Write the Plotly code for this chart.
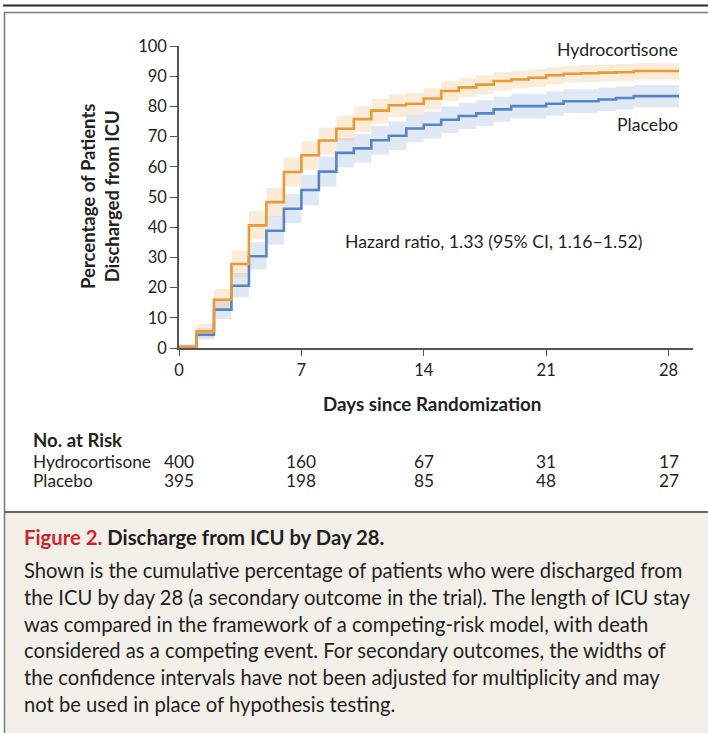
import plotly.graph_objects as go

# ---------------- data ----------------
days = list(range(0, 29)) + [28.6]

hydro = [0.3, 5.5, 16.0, 27.8, 40.6, 48.3, 58.3, 63.8, 68.7, 72.6, 75.8, 78.6, 80.4, 80.9,
         82.6, 85.1, 86.3, 87.2, 88.4, 88.9, 89.5, 90.3, 90.8, 91.0, 91.2, 91.3, 91.7, 91.7, 91.7]
hydro_lo = [0.0, 3.5, 12.5, 23.5, 36.0, 43.5, 53.5, 59.0, 64.0, 68.5, 71.5, 74.5, 76.5, 77.3,
            79.0, 81.7, 83.0, 84.0, 85.3, 85.9, 86.5, 87.3, 87.9, 88.1, 88.3, 88.4, 88.9, 88.9, 88.9]
hydro_hi = [1.2, 8.0, 19.6, 32.3, 45.4, 53.0, 63.0, 68.5, 73.0, 77.0, 80.0, 82.5, 84.0, 84.5,
            86.0, 88.3, 89.5, 90.3, 91.3, 91.8, 92.3, 93.0, 93.5, 93.7, 93.9, 94.0, 94.3, 94.3, 94.3]

placebo = [0.3, 4.4, 12.7, 20.6, 30.4, 38.8, 46.1, 52.3, 58.4, 64.6, 66.1, 68.8, 70.3, 72.7,
           73.9, 75.6, 76.8, 77.7, 79.0, 80.1, 80.1, 80.9, 81.7, 81.7, 82.3, 82.8, 83.4, 83.4, 83.4]
placebo_lo = [0.0, 2.8, 9.6, 16.7, 26.0, 34.2, 41.3, 47.3, 53.4, 59.8, 61.3, 64.0, 65.6, 68.1,
              69.4, 71.2, 72.5, 73.5, 74.9, 76.0, 76.0, 76.9, 77.8, 77.8, 78.5, 79.0, 79.7, 79.7, 79.7]
placebo_hi = [1.2, 6.5, 16.0, 24.8, 35.0, 43.6, 51.0, 57.3, 63.4, 69.5, 70.9, 73.5, 75.0, 77.3,
              78.3, 80.0, 81.1, 82.0, 83.2, 84.2, 84.2, 85.0, 85.7, 85.7, 86.2, 86.6, 87.1, 87.1, 87.1]

x_ticks = [0, 7, 14, 21, 28]
y_ticks = [0, 10, 20, 30, 40, 50, 60, 70, 80, 90, 100]
risk_hydro = ["400", "160", "67", "31", "17"]
risk_placebo = ["395", "198", "85", "48", "27"]

caption_title_red = "Figure 2."
caption_title = "Discharge from ICU by Day 28."
caption_lines = [
    "Shown is the cumulative percentage of patients who were discharged from",
    "the ICU by day 28 (a secondary outcome in the trial). The length of ICU stay",
    "was compared in the framework of a competing-risk model, with death",
    "considered as a competing event. For secondary outcomes, the widths of",
    "the confidence intervals have not been adjusted for multiplicity and may",
    "not be used in place of hypothesis testing.",
]

# ---------------- style ----------------
W, H = 708, 733
ML, MR, MT, MB = 179, 15, 46, 385
PW, PH = W - ML - MR, H - MT - MB
FONT = "Lato"
TXT = "#231f20"
ORANGE = "#e89a35"
BLUE = "#5585c5"
ORANGE_BAND = "rgba(243,190,130,0.30)"
BLUE_BAND = "rgba(160,185,225,0.33)"


def ext(v):
    return list(v) + [v[-1]]


def px(xp):
    return (xp - ML) / PW


def py(yp):
    return (H - MB - yp) / PH


fig = go.Figure()

for lo, hi, band in [(placebo_lo, placebo_hi, BLUE_BAND), (hydro_lo, hydro_hi, ORANGE_BAND)]:
    fig.add_trace(go.Scatter(x=days, y=ext(lo), mode="lines", line=dict(width=0, shape="hv"),
                             hoverinfo="skip", showlegend=False))
    fig.add_trace(go.Scatter(x=days, y=ext(hi), mode="lines", line=dict(width=0, shape="hv"),
                             fill="tonexty", fillcolor=band, hoverinfo="skip", showlegend=False))

fig.add_trace(go.Scatter(x=days, y=ext(placebo), mode="lines", name="Placebo",
                         line=dict(color=BLUE, width=2.6, shape="hv"), showlegend=False))
fig.add_trace(go.Scatter(x=days, y=ext(hydro), mode="lines", name="Hydrocortisone",
                         line=dict(color=ORANGE, width=2.6, shape="hv"), showlegend=False))

annotations = []


def txt(x, y, s, size=15, bold=False, xanchor="left", yanchor="middle", color=TXT,
        xref="paper", yref="paper"):
    if bold:
        s = "<b>" + s + "</b>"
    annotations.append(dict(x=x, y=y, xref=xref, yref=yref, text=s, showarrow=False,
                            xanchor=xanchor, yanchor=yanchor,
                            font=dict(family=FONT, size=size, color=color)))


txt(px(680), py(50), "Hydrocortisone", size=17.7, xanchor="right")
txt(px(680), py(124), "Placebo", size=17.7, xanchor="right")
txt(px(343), py(241), "Hazard ratio, 1.33 (95% CI, 1.16\u20131.52)", size=17.7)

# y axis title
annotations.append(dict(x=px(100), y=py(197), xref="paper", yref="paper",
                        text="<b>Percentage of Patients<br>Discharged from ICU</b>",
                        showarrow=False, textangle=-90, xanchor="center", yanchor="middle",
                        font=dict(family=FONT, size=18.5, color=TXT)))
txt(px(432), py(403), "Days since Randomization", size=18.8, bold=True, xanchor="center")

txt(px(31), py(440), "No. at Risk", bold=True, size=18.6)
txt(px(31), py(461), "Hydrocortisone", size=17.3)
txt(px(31), py(480), "Placebo", size=17.3)
for d, a, b in zip(x_ticks, risk_hydro, risk_placebo):
    txt(d, py(461), a, size=17.3, xanchor="center", xref="x")
    txt(d, py(480), b, size=17.3, xanchor="center", xref="x")

txt(px(22), py(537), "<span style='color:#d2232a'>" + caption_title_red + "</span> " + caption_title,
    size=20.3, bold=True)
for i, line in enumerate(caption_lines):
    txt(px(22), py(570 + i * 26.8), line, size=20.2)

shapes = [
    # caption background
    dict(type="rect", xref="paper", yref="paper", x0=px(4), x1=px(708), y0=py(512), y1=py(733),
         fillcolor="#f3f0ea", line=dict(width=0), layer="below"),
    # top heavy line
    dict(type="line", xref="paper", yref="paper", x0=px(3), x1=px(708), y0=py(5.5), y1=py(5.5),
         line=dict(color="#2b2b2b", width=2)),
    # frame top
    dict(type="line", xref="paper", yref="paper", x0=px(4), x1=px(708), y0=py(12.5), y1=py(12.5),
         line=dict(color="#7a7a7a", width=1.5)),
    # frame left
    dict(type="line", xref="paper", yref="paper", x0=px(4.5), x1=px(4.5), y0=py(12), y1=py(733),
         line=dict(color="#7a7a7a", width=1.5)),
    # caption separator
    dict(type="line", xref="paper", yref="paper", x0=px(4), x1=px(708), y0=py(512), y1=py(512),
         line=dict(color="#666666", width=2)),
]

fig.update_layout(
    width=W, height=H,
    margin=dict(l=ML, r=MR, t=MT, b=MB),
    paper_bgcolor="white", plot_bgcolor="rgba(0,0,0,0)",
    annotations=annotations, shapes=shapes,
    font=dict(family=FONT, size=16.5, color=TXT),
)
fig.update_xaxes(range=[0, 29.4], tickvals=x_ticks, ticks="outside", ticklen=6, tickwidth=1.3,
                 tickcolor="#555", showline=True, linecolor="#555", linewidth=1.5, showgrid=False,
                 zeroline=False, tickfont=dict(family=FONT, size=16.5, color=TXT))
fig.update_yaxes(range=[0, 100], tickvals=y_ticks, ticks="outside", ticklen=7, tickwidth=1.3,
                 tickcolor="#555", showline=True, linecolor="#555", linewidth=1.5, showgrid=False,
                 zeroline=False, tickfont=dict(family=FONT, size=16.5, color=TXT))

fig.write_html("out.html", config={"displayModeBar": False},
               post_script="document.body.style.margin='0';document.body.style.overflow='hidden';")
